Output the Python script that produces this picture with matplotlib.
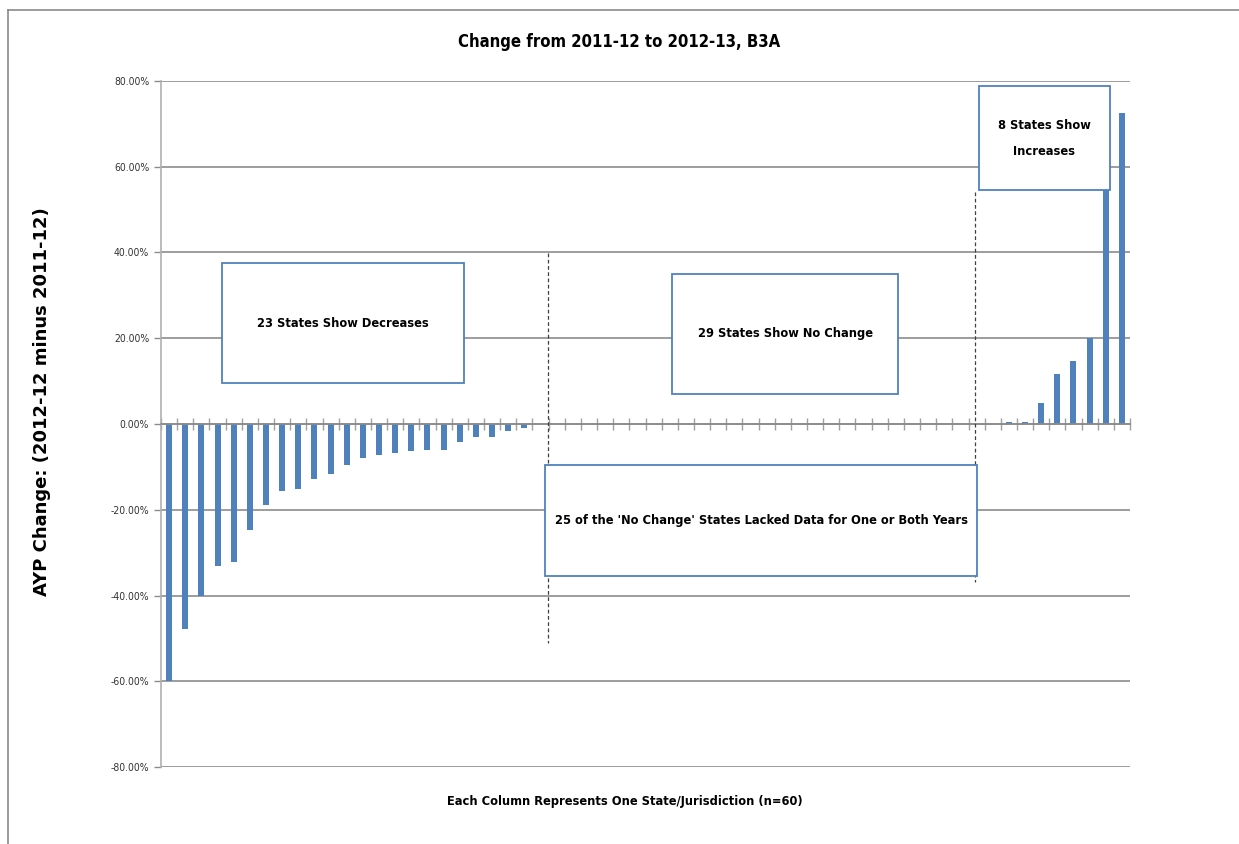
import matplotlib.pyplot as plt
import matplotlib.ticker as mticker
from matplotlib.patches import Rectangle
from matplotlib.lines import Line2D

plt.rcParams['font.family'] = ['DejaVu Sans']
plt.rcParams['font.stretch'] = 'condensed'

# AYP change per state, sorted (percent points)
decreases = [-60.0, -47.7, -40.0, -33.1, -32.3, -24.8, -18.8, -15.6, -15.2, -12.8,
             -11.7, -9.6, -7.9, -7.3, -6.8, -6.2, -6.0, -6.0, -4.2, -3.0,
             -3.0, -1.6, -0.9]
no_change = [0.0] * 29
increases = [0.5, 0.5, 4.8, 11.6, 14.8, 20.1, 63.0, 72.5]
values = decreases + no_change + increases
cols = list(range(len(values)))

y_ticks = [-80, -60, -40, -20, 0, 20, 40, 60, 80]

blue = '#4F81BD'
grid_gray = '#8C8C8C'

fig = plt.figure(figsize=(12.39, 8.44), dpi=100)
ax = fig.add_axes([161 / 1239, 1 - 767 / 844, 969 / 1239, 686 / 844])

ax.bar(cols, values, width=0.37, color=blue, zorder=2)

ax.set_xlim(-0.5, len(values) - 0.5)
ax.set_ylim(-80, 80)
ax.set_yticks(y_ticks)
ax.yaxis.set_major_formatter(mticker.FuncFormatter(lambda v, p: '%.2f%%' % v))
ax.grid(axis='y', color=grid_gray, lw=1.2, zorder=0)
ax.tick_params(axis='y', labelsize=7.5, colors='#333333', length=5, color=grid_gray, width=1)

# category axis sits on zero with crossing tick marks
ax.spines['bottom'].set_position(('data', 0))
ax.spines['bottom'].set_color(grid_gray)
ax.spines['bottom'].set_linewidth(1.2)
ax.spines['left'].set_color('#B0B0B0')
ax.spines['left'].set_linewidth(1.2)
ax.spines['top'].set_visible(False)
ax.spines['right'].set_visible(False)
ax.set_xticks([c - 0.5 for c in cols] + [len(values) - 0.5])
ax.set_xticklabels([])
ax.tick_params(axis='x', direction='inout', length=8, color='#A0A0A0', width=1)

# dashed separators between the groups
ax.plot([23.48, 23.48], [39.9, -51.1], ls=(0, (3, 2)), color='#404040', lw=0.9, zorder=3)
ax.plot([49.88, 49.88], [54.1, -36.85], ls=(0, (3, 2)), color='#404040', lw=0.9, zorder=3)

# annotation boxes
boxes = [
    (3.28, 9.56, 14.98, 27.99, '23 States Show Decreases'),
    (31.14, 7.0, 14.0, 27.99, '29 States Show No Change'),
    (23.28, -35.45, 26.75, 25.89, "25 of the 'No Change' States Lacked Data for One or Both Years"),
    (50.15, 54.58, 8.11, 24.25, '8 States Show\nIncreases'),
]
for x0, y0, w, h, txt in boxes:
    ax.add_patch(Rectangle((x0, y0), w, h, facecolor='white', edgecolor=blue,
                           lw=1.3, zorder=4, clip_on=False))
    ax.text(x0 + w / 2, y0 + h / 2, txt, ha='center', va='center', fontsize=9.2,
            fontweight='bold', linespacing=2.3, zorder=5)

fig.text(0.5, 1 - 42 / 844, 'Change from 2011-12 to 2012-13, B3A', ha='center', va='center',
         fontsize=12, fontweight='bold')
fig.text(625 / 1239, 1 - 802 / 844, 'Each Column Represents One State/Jurisdiction (n=60)',
         ha='center', va='center', fontsize=9.2, fontweight='bold')
fig.text(42 / 1239, 1 - 402 / 844, 'AYP Change: (2012-12 minus 2011-12)', rotation=90,
         ha='center', va='center', fontsize=13, fontweight='bold', stretch='normal')

# chart area outline
fig.add_artist(Line2D([8 / 1239, 8 / 1239], [0, 1 - 10 / 844], color='#8A8A8A', lw=1.2))
fig.add_artist(Line2D([8 / 1239, 1], [1 - 10 / 844, 1 - 10 / 844], color='#8A8A8A', lw=1.2))

fig.savefig('out.png', dpi=100)
